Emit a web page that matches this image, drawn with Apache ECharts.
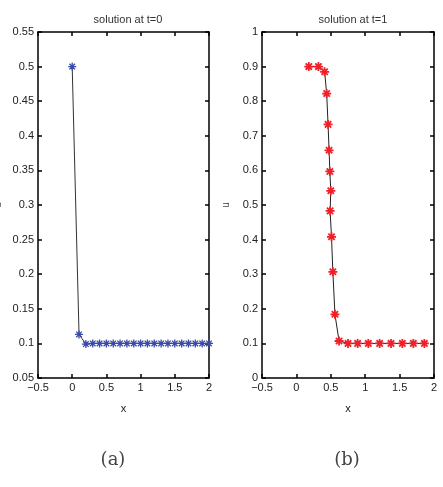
<!DOCTYPE html>
<html>
<head>
<meta charset="utf-8">
<script src="https://cdn.jsdelivr.net/npm/echarts@6/dist/echarts.min.js"></script>
<style>
  html, body {margin: 0; padding: 0; background: #fff;}
  #chart {width: 443px; height: 487px;}
</style>
</head>
<body>
<div id="chart"></div>
<script>
// panel (a): solution at t=0
const xA = [0, 0.1, 0.2, 0.3, 0.4, 0.5, 0.6, 0.7, 0.8, 0.9, 1.0, 1.1, 1.2, 1.3, 1.4, 1.5, 1.6, 1.7, 1.8, 1.9, 2.0];
const uA = [0.5, 0.113, 0.099, 0.1, 0.1, 0.1, 0.1, 0.1, 0.1, 0.1, 0.1, 0.1, 0.1, 0.1, 0.1, 0.1, 0.1, 0.1, 0.1, 0.1, 0.1];

// panel (b): solution at t=1
const xB = [0.18, 0.32, 0.41, 0.44, 0.46, 0.475, 0.486, 0.5, 0.49, 0.51, 0.53, 0.56, 0.62, 0.75, 0.89, 1.045, 1.21, 1.375, 1.54, 1.70, 1.86];
const uB = [0.9, 0.9, 0.885, 0.822, 0.733, 0.658, 0.597, 0.541, 0.483, 0.408, 0.307, 0.184, 0.107, 0.1, 0.1, 0.1, 0.1, 0.1, 0.1, 0.1, 0.1];

const titles = ['solution at t=0', 'solution at t=1'];
const panelLabels = ['(a)', '(b)'];

const star = 'path://M0,-1L0,1M-1,0L1,0M-0.7,-0.7L0.7,0.7M-0.7,0.7L0.7,-0.7';
const font = 'Liberation Sans';

const chart = echarts.init(document.getElementById('chart'), null, {renderer: 'canvas'});

function pairs(xs, ys) {
    return xs.map((x, i) => [x, ys[i]]);
}

function xAxisFor(gridIndex, pos) {
    return {
        gridIndex,
        type: 'value',
        position: pos,
        min: -0.5,
        max: 2,
        interval: 0.5,
        name: pos === 'bottom' ? 'x' : '',
        nameLocation: 'middle',
        nameGap: 25,
        nameTextStyle: {fontFamily: font, fontSize: 11, color: '#222'},
        axisLine: {show: true, onZero: false, lineStyle: {color: '#000', width: 1.5}},
        axisTick: {show: true, inside: true, length: 4, lineStyle: {color: '#000', width: 1.5}},
        axisLabel: {show: pos === 'bottom', fontFamily: font, fontSize: 11, color: '#222', margin: 4,
            formatter: v => v < 0 ? '\u2212' + Math.abs(v) : String(v)},
        splitLine: {show: false}
    };
}

function yAxisFor(gridIndex, pos, min, max, interval) {
    return {
        gridIndex,
        type: 'value',
        position: pos,
        min,
        max,
        interval,
        name: pos === 'left' ? 'u' : '',
        nameLocation: 'middle',
        nameGap: gridIndex === 0 ? 35 : 31,
        nameTextStyle: {fontFamily: font, fontSize: 10, color: '#444'},
        axisLine: {show: true, onZero: false, lineStyle: {color: '#000', width: 1.5}},
        axisTick: {show: true, inside: true, length: 4, lineStyle: {color: '#000', width: 1.5}},
        axisLabel: {show: pos === 'left', fontFamily: font, fontSize: 11, color: '#222', margin: 4},
        splitLine: {show: false}
    };
}

const option = {
    animation: false,
    backgroundColor: '#fff',
    title: [
        {text: titles[0], left: 123, top: 9, textAlign: 'center',
            textStyle: {fontFamily: font, fontSize: 11, fontWeight: 'normal', color: '#333'}},
        {text: titles[1], left: 348, top: 9, textAlign: 'center',
            textStyle: {fontFamily: font, fontSize: 11, fontWeight: 'normal', color: '#333'}},
        {text: panelLabels[0], left: 108, top: 446, textAlign: 'center',
            textStyle: {fontFamily: 'DejaVu Serif', fontSize: 18, fontWeight: 'normal', color: '#444'}},
        {text: panelLabels[1], left: 342, top: 446, textAlign: 'center',
            textStyle: {fontFamily: 'DejaVu Serif', fontSize: 18, fontWeight: 'normal', color: '#444'}}
    ],
    grid: [
        {left: 38, top: 32, width: 171, height: 346, containLabel: false, outerBoundsMode: 'none'},
        {left: 262, top: 32, width: 172, height: 346, containLabel: false, outerBoundsMode: 'none'}
    ],
    xAxis: [
        xAxisFor(0, 'bottom'), xAxisFor(0, 'top'),
        xAxisFor(1, 'bottom'), xAxisFor(1, 'top')
    ],
    yAxis: [
        yAxisFor(0, 'left', 0.05, 0.55, 0.05), yAxisFor(0, 'right', 0.05, 0.55, 0.05),
        yAxisFor(1, 'left', 0, 1, 0.1), yAxisFor(1, 'right', 0, 1, 0.1)
    ],
    series: [
        {
            type: 'line',
            xAxisIndex: 0,
            yAxisIndex: 0,
            data: pairs(xA, uA),
            symbol: star,
            symbolSize: 8,
            lineStyle: {color: '#333', width: 1},
            itemStyle: {color: '#3a4aa8', borderColor: '#3a4aa8', borderWidth: 1.3}
        },
        {
            type: 'line',
            xAxisIndex: 2,
            yAxisIndex: 2,
            data: pairs(xB, uB),
            symbol: star,
            symbolSize: 9,
            lineStyle: {color: '#222', width: 1},
            itemStyle: {color: '#f0202a', borderColor: '#f0202a', borderWidth: 1.8}
        }
    ]
};

chart.setOption(option);
</script>
</body>
</html>
